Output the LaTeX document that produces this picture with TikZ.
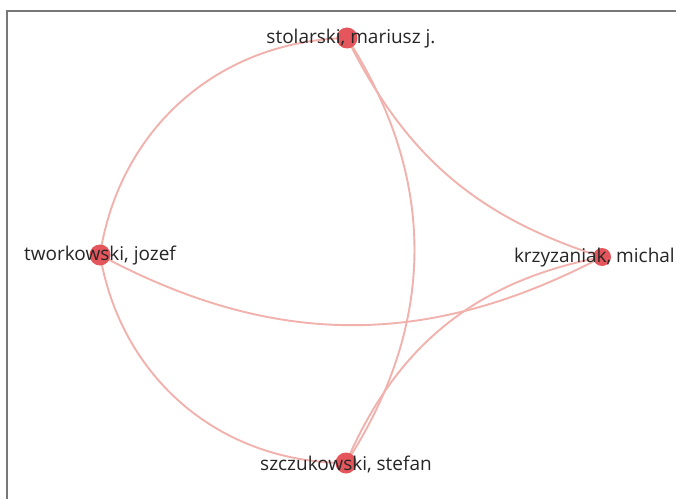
\documentclass[tikz,border=0pt]{standalone}
\usepackage{fontspec}
\setmainfont{Open Sans}
\definecolor{edgec}{RGB}{241,178,174}
\definecolor{nodec}{RGB}{228,86,92}
\definecolor{txtc}{RGB}{38,38,38}
\definecolor{framec}{RGB}{120,120,120}
\tikzset{
  link/.style={draw=edgec, line width=1.9pt},
  dot/.style={circle, fill=nodec, inner sep=0pt, minimum size=#1},
  lbl/.style={text=txtc, font=\fontsize{19}{22}\selectfont, inner sep=0pt, anchor=center}
}
\begin{document}
\begin{tikzpicture}[x=1pt,y=1pt]
\useasboundingbox (0,0) rectangle (676,499);
\fill[white] (0,0) rectangle (676,499);
% frame
\coordinate (fa) at (7,0);
\coordinate (fb) at (7,488);
\coordinate (fc) at (676,488);
\draw[framec, line width=1.2pt] (fa) -- (fb) -- (fc);
% node positions
\coordinate (s) at (347,461);
\coordinate (t) at (100,244);
\coordinate (k) at (602,242);
\coordinate (z) at (346,36);
% links
\draw[link] (t) to[bend left=40] (s);
\draw[link] (t) to[bend right=40] (z);
\draw[link] (s) to[bend left=33] (z);
\draw[link] (s) to[bend right=23] (k);
\draw[link] (t) to[bend right=28] (k);
\draw[link] (z) to[bend left=28] (k);
% dots
\node[dot=21pt] (sd) at (s) {};
\node[dot=21pt] (td) at (t) {};
\node[dot=18pt] (kd) at (k) {};
\node[dot=21pt] (zd) at (z) {};
% labels
\node[lbl] (sl) at ([xshift=4pt,yshift=-1pt]s) {stolarski, mariusz j.};
\node[lbl] (tl) at ([yshift=-1pt]t) {tworkowski, jozef};
\node[lbl, anchor=east] (kl) at (675,241) {krzyzaniak, michal};
\node[lbl] (zl) at ([yshift=-1pt]z) {szczukowski, stefan};
\end{tikzpicture}
\end{document}
